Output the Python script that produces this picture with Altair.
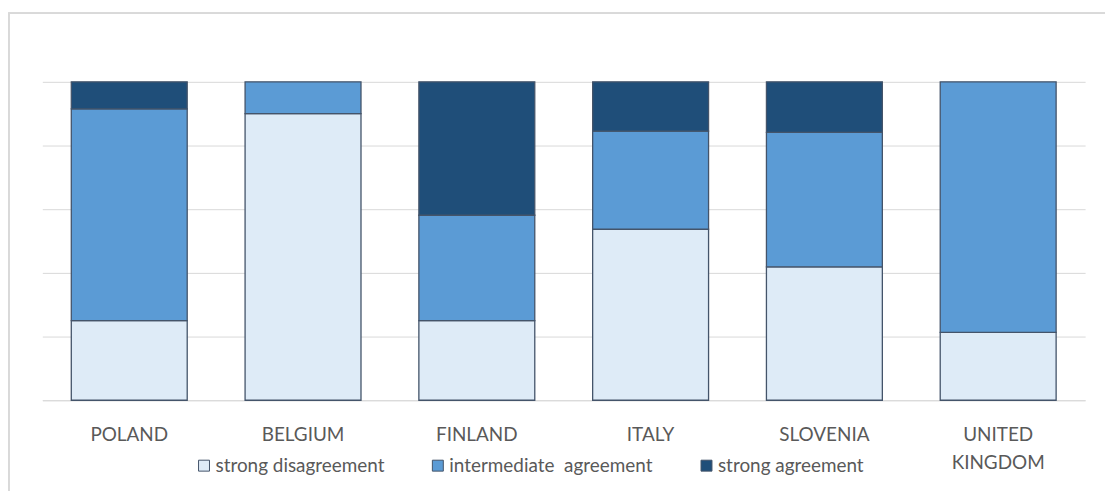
import altair as alt
import pandas as pd

countries = ["POLAND", "BELGIUM", "FINLAND", "ITALY", "SLOVENIA", "UNITED KINGDOM"]
series = ["strong disagreement", "intermediate\u00a0 agreement", "strong agreement"]
strong_disagreement = [25.0, 90.0, 25.0, 53.7, 41.9, 21.3]
intermediate_agreement = [66.5, 10.0, 33.1, 30.8, 42.2, 78.7]
strong_agreement = [8.5, 0.0, 41.9, 15.5, 15.9, 0.0]
colors = ["#DEEBF7", "#5B9BD5", "#1F4E79"]

rows = []
for i, c in enumerate(countries):
    for k, (s, vals) in enumerate(zip(series, [strong_disagreement, intermediate_agreement, strong_agreement])):
        if vals[i] > 0:
            rows.append({"country": c, "series": s, "value": vals[i], "order": k})
df = pd.DataFrame(rows)

FONT = "Lato"

bars = alt.Chart(df).mark_bar(stroke="#44546A", strokeWidth=1.3).encode(
    x=alt.X("country:N", sort=countries, title="",
            scale=alt.Scale(paddingInner=0.333, paddingOuter=0.1667),
            axis=alt.Axis(labelAngle=0, ticks=False, domain=True, domainColor="#D9D9D9",
                          domainWidth=1, labelFont=FONT, labelFontSize=19, labelColor="#595959",
                          labelPadding=25, labelExpr="split(datum.label, ' ')",
                          labelLineHeight=29, labelBaseline="top")),
    y=alt.Y("value:Q", stack="zero", title="",
            scale=alt.Scale(domain=[0, 100], nice=False),
            axis=alt.Axis(labels=False, ticks=False, domain=False, grid=True,
                          gridColor="#D9D9D9", gridWidth=1,
                          values=[0, 20, 40, 60, 80, 100])),
    color=alt.Color("series:N", sort=series,
                    scale=alt.Scale(domain=series, range=colors),
                    legend=alt.Legend(orient="none", legendX=153, legendY=376,
                                      direction="horizontal", title=None,
                                      symbolType="square", symbolSize=121,
                                      symbolStrokeColor="#44546A", symbolStrokeWidth=1,
                                      symbolOpacity=1,
                                      labelFont=FONT, labelFontSize=19, labelColor="#595959",
                                      labelOffset=2, columnPadding=44, labelLimit=400)),
    order=alt.Order("order:Q"),
)

border_left = alt.Chart(df).mark_rule(color="#D9D9D9", strokeWidth=1.5).encode(
    x=alt.value(-34), y=alt.value(-69), y2=alt.value(420))
border_top = alt.Chart(df).mark_rule(color="#D9D9D9", strokeWidth=1.5).encode(
    x=alt.value(-34), x2=alt.value(1075), y=alt.value(-69))

chart = alt.layer(bars, border_left, border_top).properties(
    width=1048, height=320,
    padding={"left": 34.5, "top": 73, "right": 20, "bottom": 90},
    autosize=alt.AutoSizeParams(type="none"),
).configure_view(strokeWidth=0)

chart.save("out.html", embed_options={"renderer": "svg", "actions": False})
